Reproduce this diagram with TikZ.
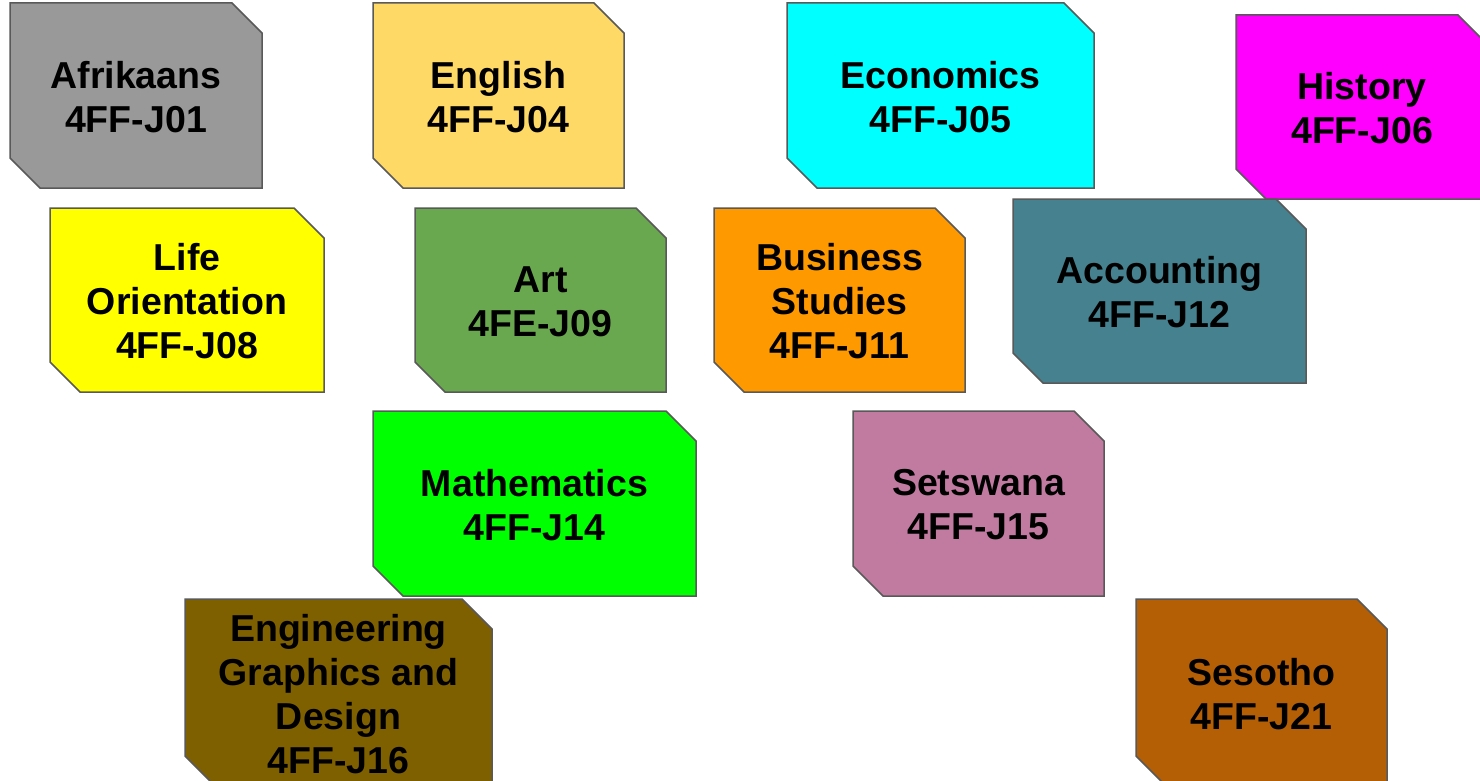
\documentclass[tikz,border=0pt]{standalone}
\usepackage{fontspec}
\setmainfont{Liberation Sans}
\definecolor{cAfr}{HTML}{999999}
\definecolor{cEng}{HTML}{FFD966}
\definecolor{cEco}{HTML}{00FFFF}
\definecolor{cHis}{HTML}{FF00FF}
\definecolor{cLif}{HTML}{FFFF00}
\definecolor{cArt}{HTML}{6AA84F}
\definecolor{cBus}{HTML}{FF9900}
\definecolor{cAcc}{HTML}{45818E}
\definecolor{cMat}{HTML}{00FF00}
\definecolor{cSet}{HTML}{C27BA0}
\definecolor{cEgd}{HTML}{7F6000}
\definecolor{cSes}{HTML}{B45F06}
\definecolor{edge}{HTML}{595959}
\tikzset{
  subjbox/.style={draw=edge, line width=1.5pt, line join=miter},
  subjtext/.style={align=center, inner sep=0pt, font=\fontsize{37.5}{44}\selectfont\bfseries, text=black}
}
\newcommand\subjcard[7]{%
  \path[subjbox, fill=#6] (#2,#3) -- ({#4-30},#3) -- (#4,{#3+30}) -- (#4,#5) -- ({#2+30},#5) -- (#2,{#5-30}) -- cycle;
  \node[subjtext] (#1) at ({(#2+#4)/2},{(#3+#5)/2+1.5}) {#7};
}
\begin{document}
\begin{tikzpicture}[x=1pt,y=-1pt]
\useasboundingbox (0,0) rectangle (1480,781);
\clip (0,0) rectangle (1480,781);
\fill[white] (0,0) rectangle (1480,781);
\subjcard{afr}{10}{3}{262}{188}{cAfr}{Afrikaans\\4FF-J01}
\subjcard{eng}{373}{3}{624}{188}{cEng}{English\\4FF-J04}
\subjcard{eco}{787}{3}{1094}{188}{cEco}{Economics\\4FF-J05}
\subjcard{his}{1236}{15}{1488}{199}{cHis}{History\\4FF-J06}
\subjcard{lif}{50}{208}{324}{392}{cLif}{Life\\Orientation\\4FF-J08}
\subjcard{art}{415}{208}{666}{392}{cArt}{Art\\4FE-J09}
\subjcard{bus}{714}{208}{965}{392}{cBus}{Business\\Studies\\4FF-J11}
\subjcard{acc}{1013}{199}{1306}{383}{cAcc}{Accounting\\4FF-J12}
\subjcard{mat}{373}{411}{696}{596}{cMat}{Mathematics\\4FF-J14}
\subjcard{set}{853}{411}{1104}{596}{cSet}{Setswana\\4FF-J15}
\subjcard{egd}{185}{599}{492}{786}{cEgd}{Engineering\\Graphics and\\Design\\4FF-J16}
\subjcard{ses}{1136}{599}{1387}{786}{cSes}{Sesotho\\4FF-J21}
\end{tikzpicture}
\end{document}
